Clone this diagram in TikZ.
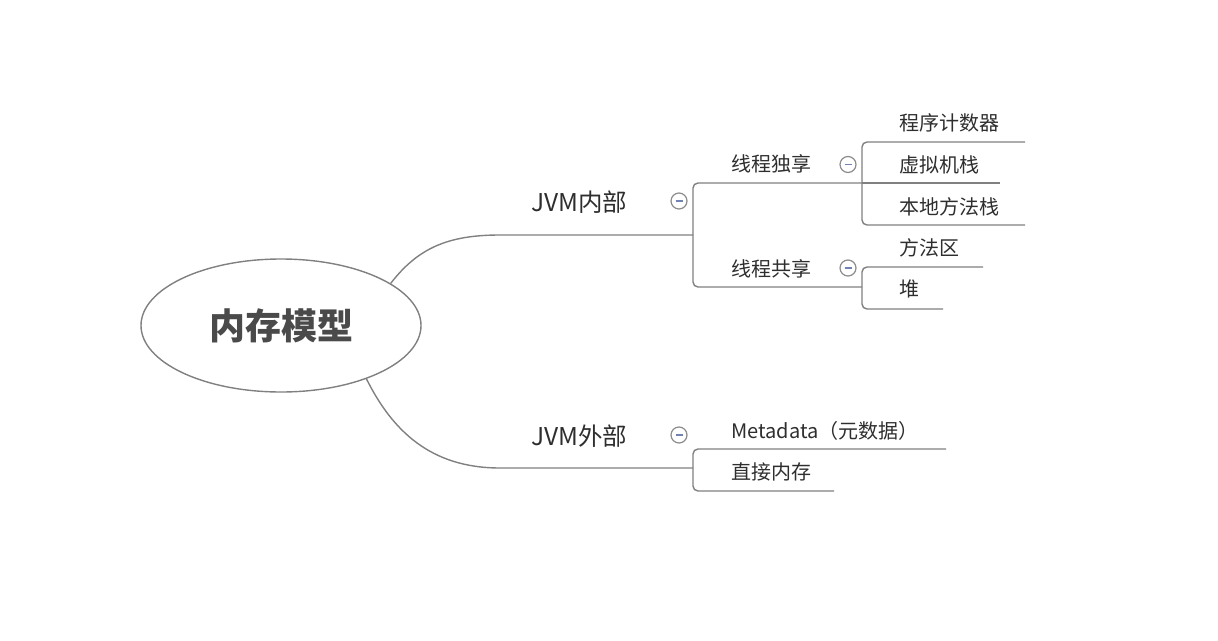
\documentclass[tikz,border=0pt]{standalone}
\usepackage{fontspec}
\setmainfont{Noto Sans CJK SC}
\usetikzlibrary{shapes.geometric}
\definecolor{linegray}{HTML}{808080}
\definecolor{txtgray}{HTML}{2E2E2E}
\definecolor{rootgray}{HTML}{4A4A4A}
\definecolor{minusblue}{HTML}{7282B4}
\definecolor{circgray}{HTML}{8C8C8C}
\begin{document}
\begin{tikzpicture}[x=1pt,y=-1pt,
  conn/.style={draw=linegray, line width=1.4pt},
  bracket/.style={conn, rounded corners=5pt},
  lvlone/.style={anchor=west, inner sep=0pt, text=txtgray, font=\fontsize{24.5}{25}\selectfont},
  lvltwo/.style={anchor=west, inner sep=0pt, text=txtgray, font=\fontsize{20}{20}\selectfont},
  toggle/.style={circle, draw=circgray, line width=1.2pt, fill=white, minimum size=16pt, inner sep=0pt,
    path picture={\draw[minusblue, line width=1.3pt] ([xshift=-3.5pt]path picture bounding box.center) -- ([xshift=3.5pt]path picture bounding box.center);}}
]
\useasboundingbox (0,0) rectangle (1218,640);

% root
\node[ellipse, draw=linegray, line width=1.4pt, minimum width=280pt, minimum height=133pt, inner sep=0pt,
      text=rootgray, font=\fontsize{36}{36}\selectfont\bfseries] (root) at (281,325.5) {内存模型};

% level one labels
\node[lvlone] (jin) at (531,202) {JVM内部};
\node[lvlone] (jout) at (531,436) {JVM外部};
\node[toggle] (tin) at (679,201) {};
\node[toggle] (tout) at (679,435) {};

% level two labels
\node[lvltwo] (duxiang) at (731,164) {线程独享};
\node[lvltwo] (gongxiang) at (731,268.5) {线程共享};
\node[toggle] (tdu) at (848,164.5) {};
\node[toggle] (tgong) at (848,268) {};

\node[lvltwo] (pc) at (899,123) {程序计数器};
\node[lvltwo] (vms) at (899,164.5) {虚拟机栈};
\node[lvltwo] (nms) at (899,206.5) {本地方法栈};
\node[lvltwo] (ma) at (899,248) {方法区};
\node[lvltwo] (heap) at (899,289) {堆};

\node[lvltwo] (meta) at (731,430.5) {Metadata（元数据）};
\node[lvltwo] (direct) at (731,471.5) {直接内存};

% junction coordinates
\coordinate (jinA) at (693,235);
\coordinate (joutA) at (693,468);

% main curved connectors
\draw[conn] (root.21.6) .. controls (418,248) and (448,235) .. (500,235) -- (jinA);
\draw[conn] (root.-32.6) .. controls (392,430) and (430,468) .. (500,468) -- (joutA);

% JVM内部 bracket
\draw[bracket] (862,183) -- (693,183) -- (693,287) -- (862,287);
\draw[conn] (862,183) -- (1000,183);
% 线程独享 children
\draw[bracket] (1025,142) -- (862,142) -- (862,225) -- (1025,225);
% 线程共享 children
\draw[bracket] (983,267) -- (862,267) -- (862,309) -- (943,309);
% JVM外部 bracket
\draw[bracket] (946,449) -- (693,449) -- (693,491) -- (834,491);

\end{tikzpicture}
\end{document}
